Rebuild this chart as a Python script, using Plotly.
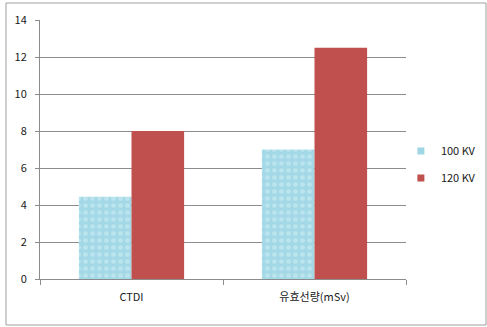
import plotly.graph_objects as go

categories = ["CTDI", "유효선량(mSv)"]
series_names = ["100 KV", "120 KV"]
values_100kv = [4.45, 7.0]
values_120kv = [8.0, 12.5]
y_ticks = [0, 2, 4, 6, 8, 10, 12, 14]

blue_bg = "#a3d9e6"
blue_fg = "#d6f0f6"
red = "#c0504d"
font_main = "Noto Sans CJK KR, DejaVu Sans, sans-serif"

fig = go.Figure()
fig.add_trace(go.Bar(
    x=categories, y=values_100kv, name=series_names[0], showlegend=False,
    marker=dict(color=blue_bg, line=dict(width=0),
                pattern=dict(shape=".", size=7, solidity=0.35, fgcolor=blue_fg, bgcolor=blue_bg)),
))
fig.add_trace(go.Bar(
    x=categories, y=values_120kv, name=series_names[1], showlegend=False,
    marker=dict(color=red, line=dict(width=0)),
))
# legend entries
fig.add_trace(go.Scatter(x=[None], y=[None], mode="markers", name=series_names[0],
                         marker=dict(symbol="square", size=7, color="#9fd6e3"), legend="legend"))
fig.add_trace(go.Scatter(x=[None], y=[None], mode="markers", name=series_names[1],
                         marker=dict(symbol="square", size=7, color=red), legend="legend2"))

fig.update_layout(
    width=487, height=327,
    margin=dict(l=40, r=81, t=20, b=48, autoexpand=False),
    paper_bgcolor="white", plot_bgcolor="white",
    barmode="group", bargap=0.425, bargroupgap=0,
    font=dict(family=font_main, size=11, color="#1a1a1a"),
    legend=dict(x=0.986, y=0.494, xanchor="left", yanchor="middle",
                bgcolor="rgba(0,0,0,0)", font=dict(size=11), itemwidth=30),
    legend2=dict(x=0.986, y=0.39, xanchor="left", yanchor="middle",
                 bgcolor="rgba(0,0,0,0)", font=dict(size=11), itemwidth=30),
    xaxis=dict(type="category", showline=True, linecolor="#8c8c8c", linewidth=1,
               ticks="outside", tickson="boundaries", ticklen=5, tickcolor="#8c8c8c",
               showgrid=False, tickfont=dict(size=11), ticklabelstandoff=8),
    yaxis=dict(range=[0, 14], tickvals=y_ticks, showline=True, linecolor="#8c8c8c", linewidth=1,
               ticks="outside", ticklen=4, tickcolor="#8c8c8c",
               showgrid=True, gridcolor="#8c8c8c", gridwidth=1, zeroline=False,
               tickfont=dict(size=11), ticklabelstandoff=6),
    shapes=[dict(type="rect", xref="paper", yref="paper",
                 x0=-0.0929, x1=1.2186, y0=-0.1776, y1=1.0656,
                 line=dict(color="#a0a0a0", width=1), layer="below")],
)

fig.write_html("out.html")
